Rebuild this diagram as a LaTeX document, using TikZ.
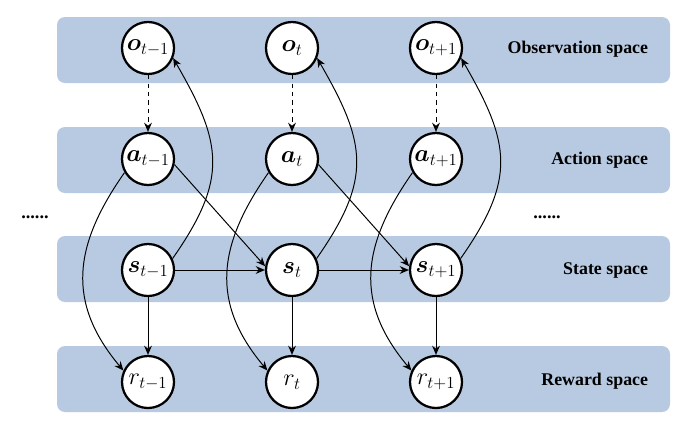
\documentclass[tikz,border=0pt]{standalone}
\usepackage{amsmath}
\usepackage{bm}
\usepackage{fontspec}
\newfontfamily\spacefont{Liberation Serif}
\usepackage{tikz}
\usetikzlibrary{arrows.meta,positioning}
\definecolor{bandblue}{RGB}{184,202,225}
\tikzset{
  band/.style={fill=bandblue, draw=none, rounded corners=0.2cm},
  var/.style={circle, draw, line width=1.6pt, fill=white, minimum size=1.3cm, inner sep=0pt, font=\fontsize{18}{20}\selectfont},
  spacelabel/.style={anchor=east, font=\spacefont\bfseries\fontsize{12.7}{14}\selectfont},
  dots/.style={anchor=base west, inner sep=0pt, font=\spacefont\bfseries\fontsize{13}{14}\selectfont},
  link/.style={-{Stealth[length=6.5pt,width=5.5pt]}, line width=0.7pt}
}

\begin{document}
\begin{tikzpicture}[x=0.025cm, y=-0.025cm]
	\useasboundingbox (0,0) rectangle (682,424);
	\fill [band] (57,17) rectangle (670,83);
	\fill [band] (57,127) rectangle (670,193);
	\fill [band] (57,236) rectangle (670,302);
	\fill [band] (57,346) rectangle (670,412);

	\node [spacelabel] (obslabel) at (653,49) {Observation space};
	\node [spacelabel] (actlabel) at (653,160) {Action space};
	\node [spacelabel] (statelabel) at (653,270) {State space};
	\node [spacelabel] (rewlabel) at (653,381) {Reward space};
	\node [dots] (dotsleft) at (21,218) {......};
	\node [dots] (dotsright) at (533,218) {......};

	\node [var] (o1) at (148,48) {$\boldsymbol{o}_{t-1}$};
	\node [var] (o2) at (292,48) {$\boldsymbol{o}_{t}$};
	\node [var] (o3) at (436,48) {$\boldsymbol{o}_{t+1}$};
	\node [var] (a1) at (148,159) {$\boldsymbol{a}_{t-1}$};
	\node [var] (a2) at (292,159) {$\boldsymbol{a}_{t}$};
	\node [var] (a3) at (436,159) {$\boldsymbol{a}_{t+1}$};
	\node [var] (s1) at (148,270) {$\boldsymbol{s}_{t-1}$};
	\node [var] (s2) at (292,270) {$\boldsymbol{s}_{t}$};
	\node [var] (s3) at (436,270) {$\boldsymbol{s}_{t+1}$};
	\node [var] (r1) at (148,382) {$r_{t-1}$};
	\node [var] (r2) at (292,382) {$r_{t}$};
	\node [var] (r3) at (436,382) {$r_{t+1}$};

	\draw [link, dashed] (o1) to (a1);
	\draw [link, dashed] (o2) to (a2);
	\draw [link, dashed] (o3) to (a3);
	\draw [link] (s1) to (s2);
	\draw [link] (s2) to (s3);
	\draw [link] (s1) to (r1);
	\draw [link] (s2) to (r2);
	\draw [link] (s3) to (r3);
	\draw [link] (a1.-12) -- (s2.172);
	\draw [link] (a2.-12) -- (s3.172);
	\draw [link] (s1.25) to [out=55, in=-60, looseness=1.25] (o1.-22);
	\draw [link] (s2.25) to [out=55, in=-60, looseness=1.25] (o2.-22);
	\draw [link] (s3.25) to [out=55, in=-60, looseness=1.25] (o3.-22);
	\draw [link] (a1.-150) to [out=-125, in=130, looseness=1.15] (r1.155);
	\draw [link] (a2.-150) to [out=-125, in=130, looseness=1.15] (r2.155);
	\draw [link] (a3.-150) to [out=-125, in=130, looseness=1.15] (r3.155);
\end{tikzpicture}
\end{document}
